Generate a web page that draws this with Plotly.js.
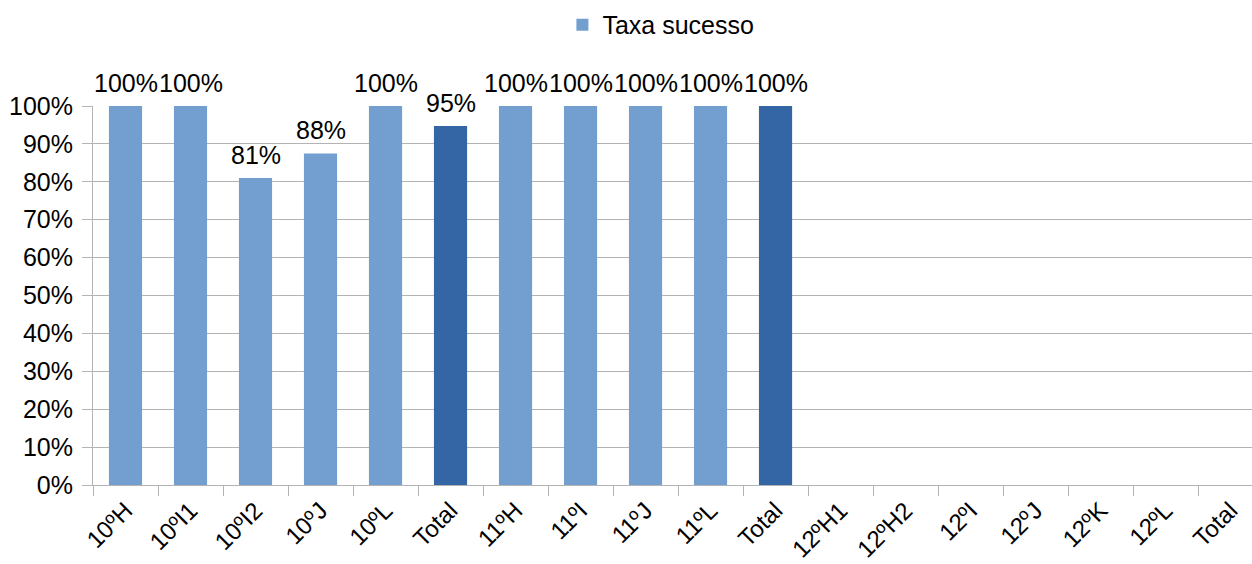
<!DOCTYPE html>
<html>
<head>
<meta charset="utf-8">
<script src="https://cdn.plot.ly/plotly-3.0.1.min.js"></script>
<style>html,body{margin:0;padding:0;background:#fff;}#chart{width:1252px;height:564px;}</style>
</head>
<body>
<div id="chart"></div>
<script>
const categories = ["10ºH","10ºI1","10ºI2","10ºJ","10ºL","Total","11ºH","11ºI","11ºJ","11ºL","Total","12ºH1","12ºH2","12ºI","12ºJ","12ºK","12ºL","Total"];
const values = [1.00, 1.00, 0.81, 0.875, 1.00, 0.947, 1.00, 1.00, 1.00, 1.00, 1.00, null, null, null, null, null, null, null];
const isTotal = [false,false,false,false,false,true,false,false,false,false,true,false,false,false,false,false,false,true];
const yTickVals = [0,0.1,0.2,0.3,0.4,0.5,0.6,0.7,0.8,0.9,1.0];
const yTickText = ["0%","10%","20%","30%","40%","50%","60%","70%","80%","90%","100%"];

const xs = categories.map((c,i)=>i);
const colors = isTotal.map(t => t ? "#3465a4" : "#729fcf");

const bars = {
  type: "bar",
  x: xs,
  y: values,
  name: "Taxa sucesso",
  marker: {color: colors},
  hoverinfo: "none"
};

const annotations = [];
values.forEach((v, i) => {
  if (v === null) return;
  annotations.push({
    x: xs[i], y: v, xref: "x", yref: "y",
    text: Math.round(v*100) + "%",
    showarrow: false, yanchor: "bottom", xanchor: "center", yshift: 7,
    font: {family: "Liberation Sans, Arial, sans-serif", size: 25, color: "#000"}
  });
});

const layout = {
  width: 1252, height: 564,
  margin: {l: 93, r: 0, t: 106, b: 79},
  paper_bgcolor: "#fff", plot_bgcolor: "#fff",
  font: {family: "Liberation Sans, Arial, sans-serif", size: 25, color: "#000"},
  bargap: 0.49,
  showlegend: true,
  legend: {orientation: "h", x: 0.49, xanchor: "center", y: 1.214, yanchor: "middle",
           font: {size: 25}, itemclick: false},
  annotations: annotations,
  xaxis: {
    range: [-0.5, 17.33],
    tickmode: "array", tickvals: xs, ticktext: categories,
    tickangle: -45, ticks: "", showgrid: false, zeroline: false,
    showline: true, linecolor: "#b3b3b3", linewidth: 1,
    tickfont: {size: 24}, ticklabelstandoff: 1,
    minor: {tickmode: "linear", tick0: -0.5, dtick: 1, ticks: "outside", ticklen: 10, tickcolor: "#b3b3b3", tickwidth: 1, showgrid: false}
  },
  yaxis: {
    range: [0, 1], tickmode: "array", tickvals: yTickVals, ticktext: yTickText,
    ticks: "outside", ticklen: 10, tickcolor: "#b3b3b3", ticklabelstandoff: 4,
    showgrid: true, gridcolor: "#b3b3b3", gridwidth: 1,
    zeroline: false, showline: true, linecolor: "#b3b3b3", linewidth: 1,
    tickfont: {size: 25}
  }
};

Plotly.newPlot("chart", [bars], layout, {displayModeBar: false, staticPlot: true});
</script>
</body>
</html>
